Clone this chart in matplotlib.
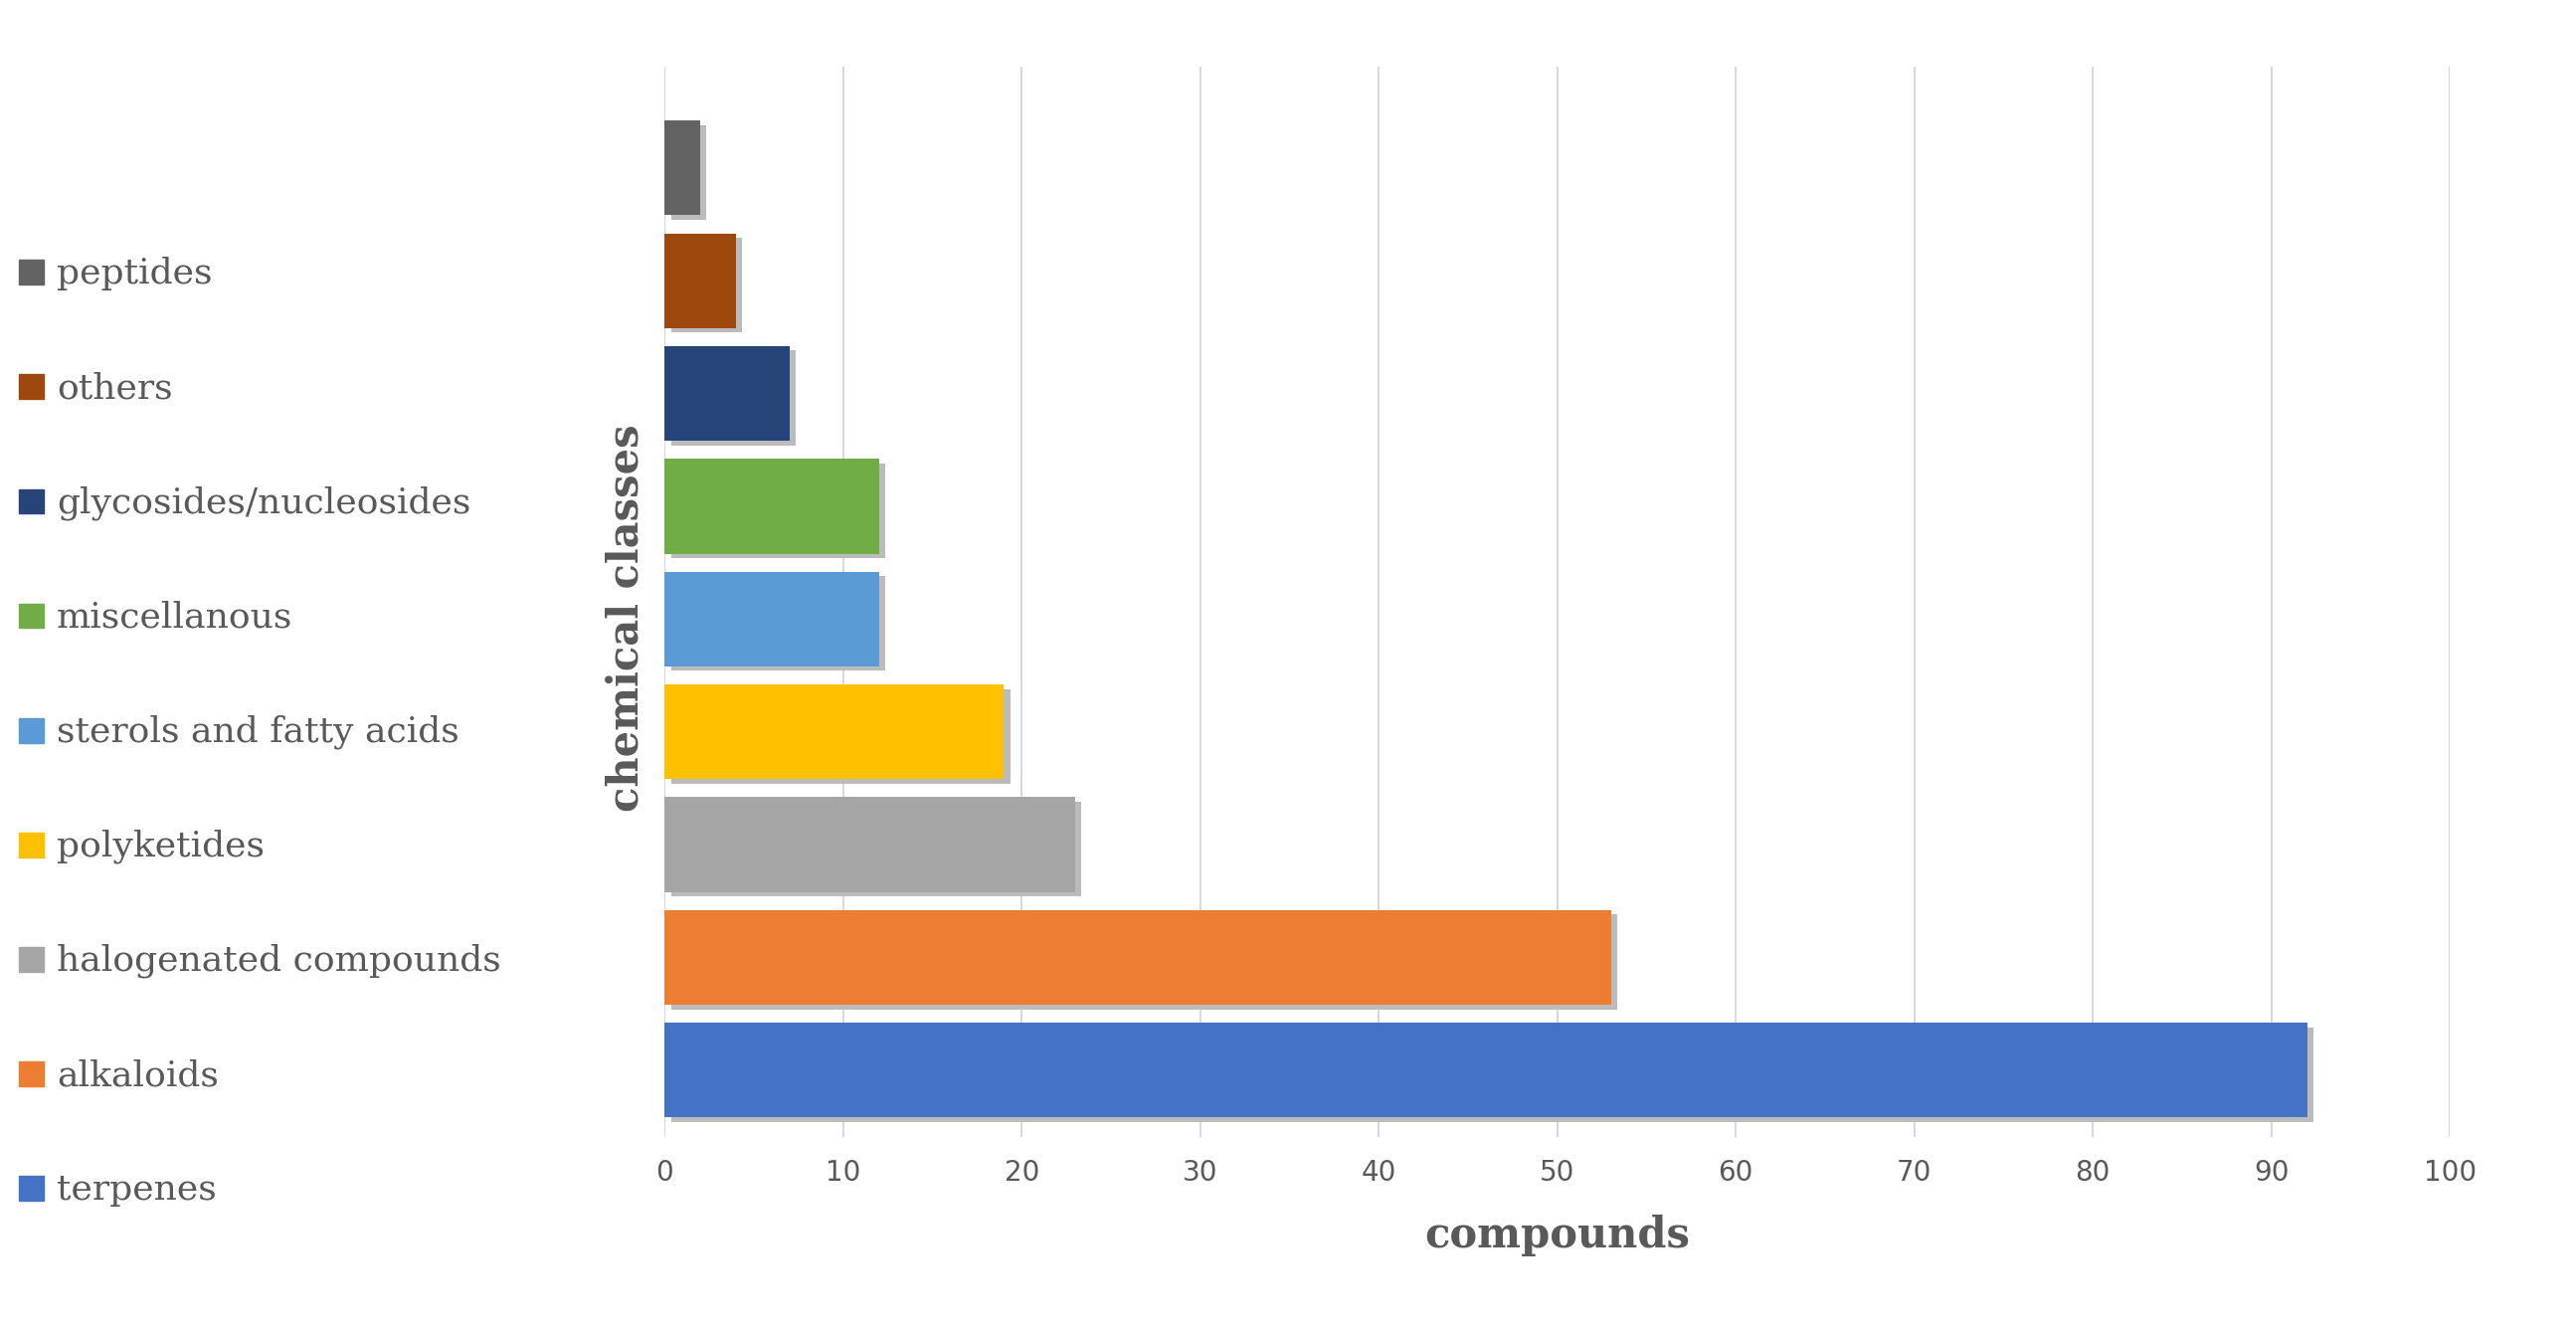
import matplotlib
matplotlib.use("Agg")
import matplotlib.pyplot as plt
from matplotlib.patches import Rectangle

categories = ["terpenes", "alkaloids", "halogenated compounds", "polyketides",
              "sterols and fatty acids", "miscellanous", "glycosides/nucleosides",
              "others", "peptides"]
values = [92, 53, 23, 19, 12, 12, 7, 4, 2]
colors = ["#4472C4", "#ED7D31", "#A5A5A5", "#FFC000", "#5B9BD5", "#70AD47",
          "#264478", "#9E480E", "#636363"]
xticks = list(range(0, 101, 10))

fig = plt.figure(figsize=(25.9, 13.35), dpi=100)
ax = fig.add_axes([0.258, 0.144, 0.693, 0.806])
ypos = list(range(len(categories)))
ax.barh([y - 0.04 for y in ypos], values, left=0.35, height=0.84, color="#bbbbbb", zorder=2)
ax.barh(ypos, values, height=0.84, color=colors, zorder=3)
ax.set_xlim(0, 100)
ax.set_ylim(-0.59, 8.9)
ax.set_xticks(xticks)
ax.set_yticks([])
ax.grid(axis="x", color="#d9d9d9", linewidth=1.5, zorder=0)
for s in ax.spines.values():
    s.set_visible(False)
ax.axvline(0, color="#d9d9d9", linewidth=1.5, zorder=1)
ax.tick_params(axis="x", length=0, labelsize=20, labelcolor="#595959", pad=16)
ax.set_xlabel("compounds", fontsize=30, fontweight="bold", family="DejaVu Serif",
              color="#595959", labelpad=20)
fig.text(0.243, 0.535, "chemical classes", rotation=90, fontsize=30, fontweight="bold",
         family="DejaVu Serif", color="#595959", ha="center", va="center")

top_y = 1 - 165 / 800
step = 69 / 800
for i, (cat, col) in enumerate(zip(categories[::-1], colors[::-1])):
    y = top_y - i * step
    fig.patches.append(Rectangle((0.0075, y - 0.008), 0.0095, 0.0185, color=col,
                                 transform=fig.transFigure, figure=fig))
    fig.text(0.022, y, cat, fontsize=26, family="DejaVu Serif", color="#595959",
             va="center", ha="left")

fig.savefig("out.png", dpi=100, facecolor="white")
